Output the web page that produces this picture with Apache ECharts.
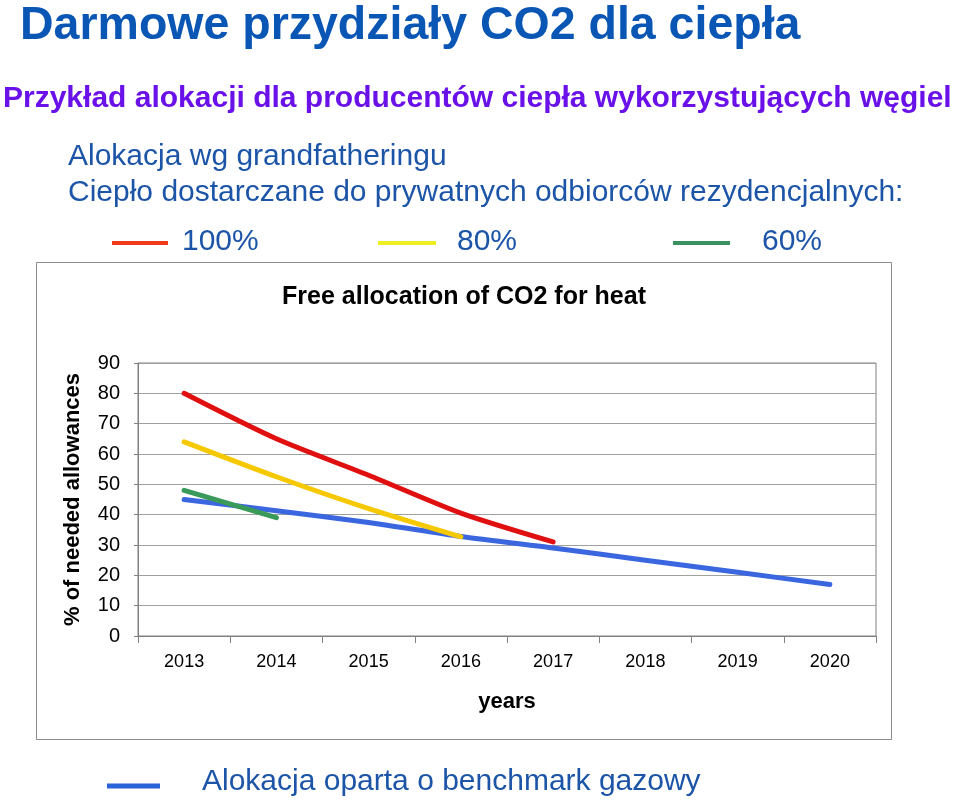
<!DOCTYPE html>
<html>
<head>
<meta charset="utf-8">
<script src="https://cdn.jsdelivr.net/npm/echarts@6/dist/echarts.min.js"></script>
<style>
html,body{margin:0;padding:0;background:#fff;}
#c{width:959px;height:805px;}
</style>
</head>
<body>
<div id="c"></div>
<script>
var years = ['2013','2014','2015','2016','2017','2018','2019','2020'];
var yTicks = [0,10,20,30,40,50,60,70,80,90];
var red100 = [80, 65, 53, 40.5, 31, null, null, null];
var yellow80 = [64, 52.5, 42, 32.7, null, null, null, null];
var green60 = [48, 39, null, null, null, null, null, null];
var blueGas = [45, 41.3, 37.4, 32.8, 29, 25, 21, 17];
var legendLabels = ['100%', '80%', '60%'];

var FF = '"Liberation Sans", Arial, sans-serif';
var chart = echarts.init(document.getElementById('c'));

function lineSeries(name, data, color) {
  return {
    name: name, type: 'line', data: data, smooth: 0.25, symbol: 'none',
    connectNulls: false,
    lineStyle: { color: color, width: 5, cap: 'round', join: 'round' },
    itemStyle: { color: color }
  };
}

function txt(x, y, text, size, color, weight, align) {
  return { type: 'text', x: x, y: y, style: { text: text, font: (weight || 'normal') + ' ' + size + 'px ' + FF, fill: color, verticalAlign: 'middle', align: align || 'left' } };
}
function seg(x1, x2, y, color, w) {
  return { type: 'line', shape: { x1: x1, y1: y, x2: x2, y2: y }, style: { stroke: color, lineWidth: w } };
}

chart.setOption({
  animation: false,
  backgroundColor: '#fff',
  grid: { left: 138, right: 83, top: 363, bottom: 169, show: true, borderColor: '#808080', borderWidth: 1, backgroundColor: 'transparent' },
  xAxis: {
    type: 'category', data: years, boundaryGap: true,
    name: 'years', nameLocation: 'middle', nameGap: 55,
    nameTextStyle: { fontFamily: FF, fontWeight: 'bold', fontSize: 22, color: '#000' },
    axisLine: { lineStyle: { color: '#808080', width: 1 } },
    axisTick: { show: true, length: 7, lineStyle: { color: '#808080' } },
    axisLabel: { fontFamily: FF, fontSize: 18, color: '#000', margin: 17 },
    splitLine: { show: false }
  },
  yAxis: {
    type: 'value', min: 0, max: 90, interval: 10,
    name: '% of needed allowances', nameLocation: 'middle', nameGap: 54,
    nameTextStyle: { fontFamily: FF, fontWeight: 'bold', fontSize: 22, color: '#000' },
    axisLine: { show: true, lineStyle: { color: '#808080', width: 1 } },
    axisTick: { show: true, length: 4, lineStyle: { color: '#808080' } },
    axisLabel: { fontFamily: FF, fontSize: 20, color: '#000', margin: 18,
      formatter: function (v) { return yTicks.indexOf(v) >= 0 ? String(v) : ''; } },
    splitLine: { show: true, lineStyle: { color: '#a0a0a0', width: 1 } }
  },
  series: [
    lineSeries('Gas benchmark', blueGas, '#3a66e0'),
    lineSeries('60%', green60, '#3a9a5a'),
    lineSeries('80%', yellow80, '#f5c800'),
    lineSeries('100%', red100, '#e01010')
  ],
  graphic: [
    { type: 'rect', shape: { x: 36.5, y: 262.5, width: 855, height: 477 }, style: { fill: 'none', stroke: '#8c8c8c', lineWidth: 1 }, z: -1 },
    txt(464, 297, 'Free allocation of CO2 for heat', 25, '#000', 'bold', 'center'),
    txt(20, 26, 'Darmowe przydziały CO2 dla ciepła', 46.5, '#0a56b5', 'bold'),
    txt(3, 99, 'Przykład alokacji dla producentów ciepła wykorzystujących węgiel', 30, '#6a10e8', 'bold'),
    txt(68, 157, 'Alokacja wg grandfatheringu', 30, '#1c55a8'),
    txt(68, 193, 'Ciepło dostarczane do prywatnych odbiorców rezydencjalnych:', 30, '#1c55a8'),
    seg(112, 168, 243, '#f03a1a', 4),
    txt(182, 242, legendLabels[0], 30, '#1c55a8'),
    seg(378, 436, 243, '#eeee22', 4),
    txt(457, 242, legendLabels[1], 30, '#1c55a8'),
    seg(673, 730, 243, '#3a9060', 4),
    txt(762, 242, legendLabels[2], 30, '#1c55a8'),
    seg(107, 160, 786, '#2a62d8', 5),
    txt(202, 782, 'Alokacja oparta o benchmark gazowy', 30, '#1c55a8')
  ]
});
</script>
</body>
</html>
